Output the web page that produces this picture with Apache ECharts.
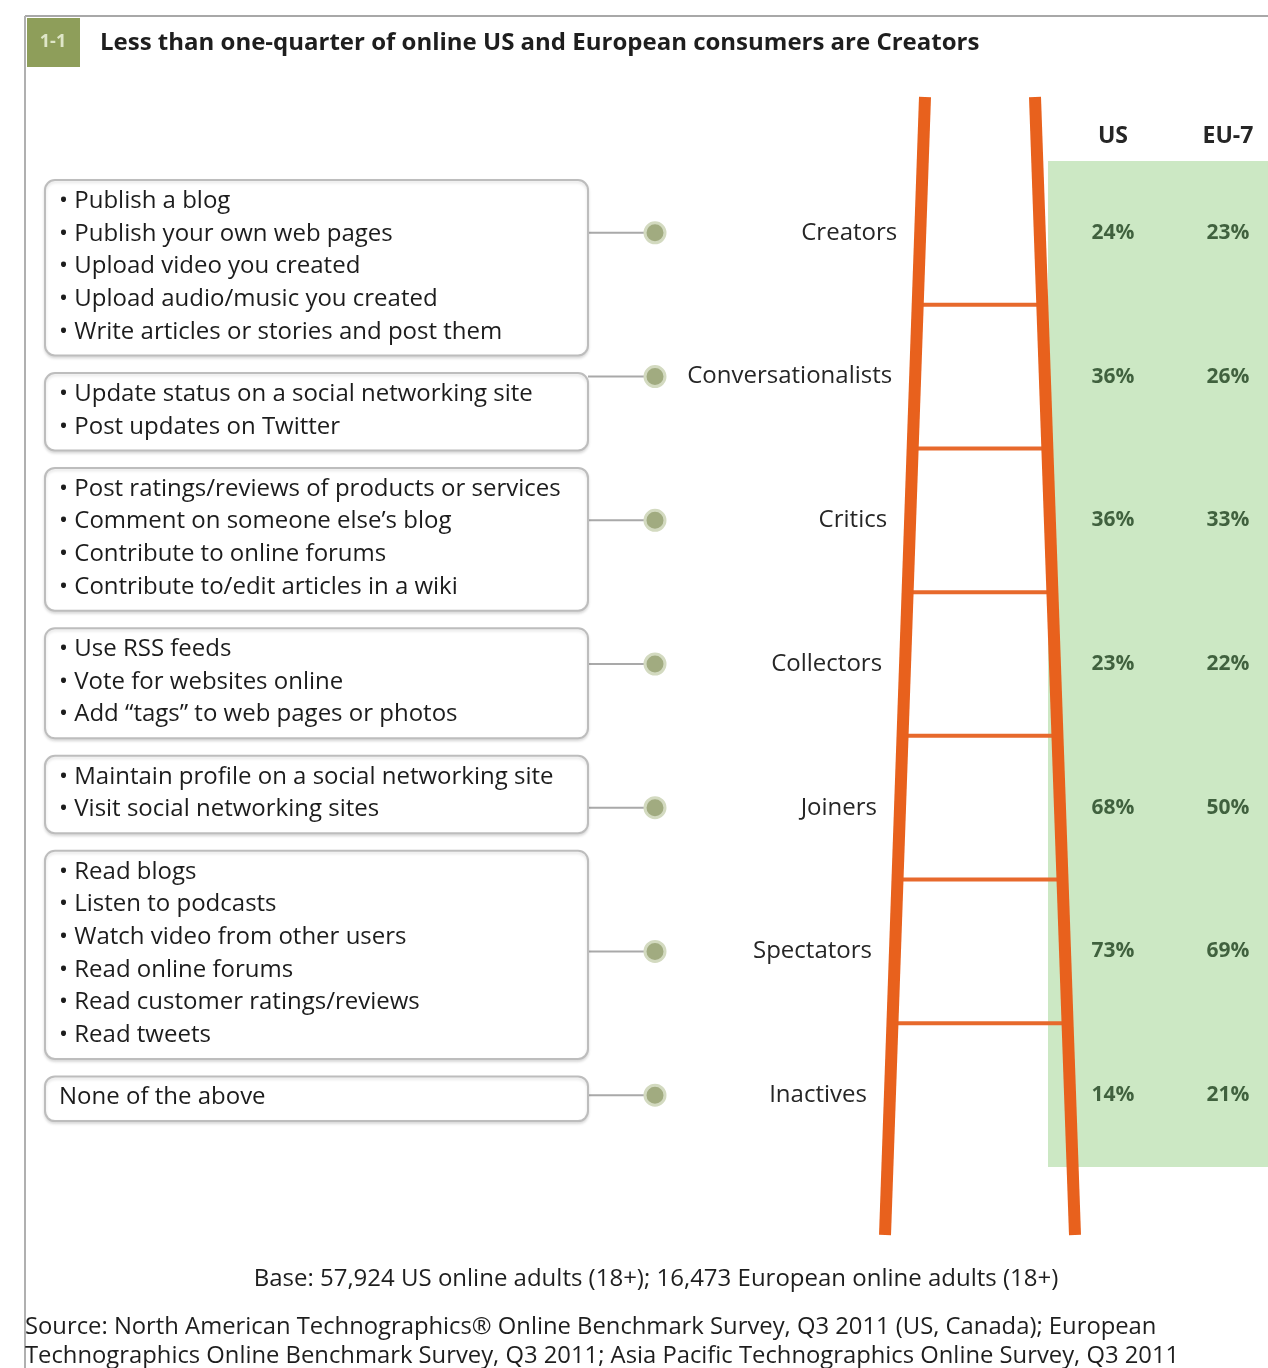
<!DOCTYPE html>
<html>
<head>
<meta charset="utf-8">
<script src="https://cdn.jsdelivr.net/npm/echarts@6/dist/echarts.min.js"></script>
<style>
html,body{margin:0;padding:0;background:#fff;}
#chart{width:1268px;height:1368px;}
</style>
</head>
<body>
<div id="chart"></div>
<script>
// ---------- DATA ----------
const segments = ['Creators','Conversationalists','Critics','Collectors','Joiners','Spectators','Inactives'];
const regions = ['US','EU-7'];
const usValues = [24,36,36,23,68,73,14];
const euValues = [23,26,33,22,50,69,21];
const activities = [
  ['Publish a blog','Publish your own web pages','Upload video you created','Upload audio/music you created','Write articles or stories and post them'],
  ['Update status on a social networking site','Post updates on Twitter'],
  ['Post ratings/reviews of products or services','Comment on someone else\u2019s blog','Contribute to online forums','Contribute to/edit articles in a wiki'],
  ['Use RSS feeds','Vote for websites online','Add \u201ctags\u201d to web pages or photos'],
  ['Maintain profile on a social networking site','Visit social networking sites'],
  ['Read blogs','Listen to podcasts','Watch video from other users','Read online forums','Read customer ratings/reviews','Read tweets'],
  ['None of the above']
];
const titleText = 'Less than one-quarter of online US and European consumers are Creators';
const badgeText = '1-1';
const baseNote = 'Base: 57,924 US online adults (18+); 16,473 European online adults (18+)';
const sourceNote = 'Source: North American Technographics\u00ae Online Benchmark Survey, Q3 2011 (US, Canada); European\nTechnographics Online Benchmark Survey, Q3 2011; Asia Pacific Technographics Online Survey, Q3 2011';

// ---------- LAYOUT ----------
const FONT = '"Open Sans", "Liberation Sans", sans-serif';
const GRID_TOP = 161, GRID_H = 1006;
const ORANGE = '#e8611d';
const PANEL = {left: 1048, right: 1268, color: '#cce8c4'};
const RAIL = {lTop: 925, rTop: 1035, yTop: 97, yBot: 1235, spread: 40, width: 12};
function leftRailX(y){ return RAIL.lTop - RAIL.spread * (y - RAIL.yTop) / (RAIL.yBot - RAIL.yTop); }
function rightRailX(y){ return RAIL.rTop + RAIL.spread * (y - RAIL.yTop) / (RAIL.yBot - RAIL.yTop); }
const BOX = {left: 45, right: 588, firstTop: 180, pad: 12, gap: 17.5, line: 32.7, textX: 59, markerX: 655};
const boxTops = [];
(function(){ let t = BOX.firstTop; activities.forEach(a => { boxTops.push(t); t += a.length * BOX.line + BOX.pad + BOX.gap; }); })();

const chart = echarts.init(document.getElementById('chart'), null, {renderer: 'canvas'});

const pctLabel = {show: true, position: 'inside', formatter: p => p.value[2] + '%', fontFamily: FONT, fontSize: 21, fontWeight: 'bold', color: '#1d3f1d'};

const option = {
  animation: false,
  backgroundColor: '#ffffff',
  title: {
    text: titleText, left: 95, top: 26,
    textStyle: {fontFamily: FONT, fontSize: 24, fontWeight: 'bold', color: '#1e1e1e'}
  },
  grid: [
    {left: 0, width: 1268, top: GRID_TOP, height: GRID_H, show: false, outerBoundsMode: 'none', containLabel: false},
    {left: 1055.5, width: 230, top: GRID_TOP, height: GRID_H, show: false, outerBoundsMode: 'none', containLabel: false}
  ],
  xAxis: [
    {gridIndex: 0, type: 'value', min: 0, max: 1268, show: false},
    {gridIndex: 1, type: 'category', data: regions, position: 'top',
     axisLine: {show: false}, axisTick: {show: false}, splitLine: {show: false},
     axisLabel: {margin: 13, fontFamily: FONT, fontSize: 23, fontWeight: 'bold', color: '#262626'}}
  ],
  yAxis: [
    {gridIndex: 0, type: 'category', data: segments, inverse: true, show: false},
    {gridIndex: 1, type: 'category', data: segments, inverse: true, show: false}
  ],
  graphic: [
    {type: 'line', shape: {x1: 25, y1: 16, x2: 1268, y2: 16}, style: {stroke: '#a8a8a8', lineWidth: 2}},
    {type: 'line', shape: {x1: 25, y1: 16, x2: 25, y2: 1368}, style: {stroke: '#b0b0b0', lineWidth: 2}},
    {type: 'rect', shape: {x: 27, y: 18, width: 53, height: 49}, style: {fill: '#8e9e5a'}},
    {type: 'text', x: 53, y: 42, style: {text: badgeText, fill: '#dfe6c8', fontFamily: FONT, fontSize: 18, fontWeight: 'bold', align: 'center', verticalAlign: 'middle'}},
    {type: 'text', x: 656, y: 1279, style: {text: baseNote, fill: '#1e1e1e', fontFamily: FONT, fontSize: 24, align: 'center', verticalAlign: 'middle'}},
    {type: 'text', x: 25, y: 1313, style: {text: sourceNote, fill: '#1e1e1e', fontFamily: FONT, fontSize: 23.8, lineHeight: 29, align: 'left', verticalAlign: 'top'}}
  ],
  series: [
    {
      name: 'panel', type: 'custom', xAxisIndex: 0, yAxisIndex: 0, z: 1,
      data: [[0, 0]],
      renderItem: function(params, api){
        const band = api.size([0, 1])[1];
        const y0 = api.coord([0, 0])[1] - band / 2;
        const y1 = api.coord([0, segments.length - 1])[1] + band / 2;
        return {type: 'rect', shape: {x: PANEL.left, y: y0, width: PANEL.right - PANEL.left, height: y1 - y0}, style: {fill: PANEL.color}};
      }
    },
    {
      name: 'boxes', type: 'custom', xAxisIndex: 0, yAxisIndex: 0, z: 3,
      data: segments.map((s, i) => [0, i]),
      renderItem: function(params, api){
        const i = api.value(1);
        const cy = api.coord([0, i])[1];
        const top = boxTops[i];
        const n = activities[i].length;
        const h = n * BOX.line + BOX.pad;
        const bullets = n > 1 || activities[i][0] !== 'None of the above';
        const text = activities[i].map(a => bullets ? '\u2022 ' + a : a).join('\n');
        const lx = leftRailX(cy) - 23;
        return {
          type: 'group',
          children: [
            {type: 'line', shape: {x1: BOX.right, y1: cy, x2: BOX.markerX, y2: cy}, style: {stroke: '#a9a9a9', lineWidth: 2}},
            {type: 'rect', shape: {x: BOX.left, y: top, width: BOX.right - BOX.left, height: h, r: 10},
             style: {fill: '#ffffff', stroke: '#bdbdbd', lineWidth: 2, shadowBlur: 3, shadowOffsetY: 2, shadowColor: 'rgba(0,0,0,0.12)'}},
            {type: 'text', x: BOX.textX, y: top + 21 - BOX.line / 2,
             style: {text: text, fill: '#1c1c1c', fontFamily: FONT, fontSize: 24, lineHeight: BOX.line, align: 'left', verticalAlign: 'top'}},
            {type: 'circle', shape: {cx: BOX.markerX, cy: cy, r: 10}, style: {fill: '#a1ab80', stroke: '#d3dac0', lineWidth: 3}},
            {type: 'text', x: lx, y: cy, style: {text: segments[i], fill: '#262626', fontFamily: FONT, fontSize: 24, align: 'right', verticalAlign: 'middle'}}
          ]
        };
      }
    },
    {
      name: 'ladder', type: 'custom', xAxisIndex: 0, yAxisIndex: 0, z: 4,
      data: [[0, 0]],
      renderItem: function(params, api){
        const band = api.size([0, 1])[1];
        const children = [];
        for (let k = 1; k < segments.length; k++) {
          const y = api.coord([0, k - 1])[1] + band / 2;
          children.push({type: 'line', shape: {x1: leftRailX(y), y1: y, x2: rightRailX(y), y2: y}, style: {stroke: '#e7692c', lineWidth: 4}});
        }
        children.push({type: 'line', shape: {x1: leftRailX(RAIL.yTop), y1: RAIL.yTop, x2: leftRailX(RAIL.yBot), y2: RAIL.yBot}, style: {stroke: ORANGE, lineWidth: RAIL.width}});
        children.push({type: 'line', shape: {x1: rightRailX(RAIL.yTop), y1: RAIL.yTop, x2: rightRailX(RAIL.yBot), y2: RAIL.yBot}, style: {stroke: ORANGE, lineWidth: RAIL.width}});
        return {type: 'group', children: children};
      }
    },
    {
      name: 'US', type: 'scatter', xAxisIndex: 1, yAxisIndex: 1, symbolSize: 1, z: 5,
      itemStyle: {color: 'rgba(0,0,0,0)'},
      data: usValues.map((v, i) => [regions[0], segments[i], v]),
      label: pctLabel
    },
    {
      name: 'EU-7', type: 'scatter', xAxisIndex: 1, yAxisIndex: 1, symbolSize: 1, z: 5,
      itemStyle: {color: 'rgba(0,0,0,0)'},
      data: euValues.map((v, i) => [regions[1], segments[i], v]),
      label: pctLabel
    }
  ]
};
chart.setOption(option);
</script>
</body>
</html>
